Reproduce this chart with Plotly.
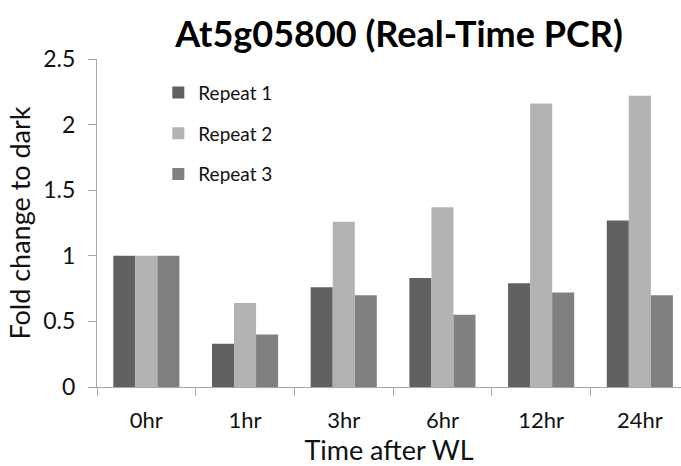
import plotly.graph_objects as go

# Fold change of At5g05800 relative to dark, three biological repeats
time_points = ["0hr", "1hr", "3hr", "6hr", "12hr", "24hr"]
repeat_1 = [1.0, 0.33, 0.76, 0.83, 0.79, 1.27]
repeat_2 = [1.0, 0.64, 1.26, 1.37, 2.16, 2.22]
repeat_3 = [1.0, 0.40, 0.70, 0.55, 0.72, 0.70]

series_names = ["Repeat 1", "Repeat 2", "Repeat 3"]
series_values = [repeat_1, repeat_2, repeat_3]
series_colors = ["#616161", "#b3b3b3", "#808080"]

FONT = "Lato, 'Open Sans', sans-serif"
TEXT = "#111111"
AXIS = "#a8a8a8"

fig = go.Figure()
for name, vals, col in zip(series_names, series_values, series_colors):
    fig.add_trace(go.Bar(
        x=time_points, y=vals, name=name,
        marker=dict(color=col, line=dict(width=0)),
        legendgroup=name,
    ))

fig.update_layout(
    width=681, height=466,
    margin=dict(l=97, r=0, t=59, b=79),
    paper_bgcolor="white", plot_bgcolor="white",
    barmode="group", bargap=0.33, bargroupgap=0,
    font=dict(family=FONT, color=TEXT),
    title=dict(
        text="<b>At5g05800 (Real-Time PCR)</b>",
        font=dict(family=FONT, size=36, color="#000000"),
        x=399 / 681, xanchor="center", xref="container",
        y=1 - 34 / 466, yanchor="middle", yref="container",
    ),
    legend=dict(
        x=0.105, y=0.955, xanchor="left", yanchor="top",
        font=dict(family=FONT, size=19, color=TEXT),
        bgcolor="rgba(0,0,0,0)", tracegroupgap=13,
        traceorder="grouped",
    ),
    showlegend=True,
)

fig.update_xaxes(
    range=[-0.5, 5.417],
    showline=True, linecolor=AXIS, linewidth=1,
    ticks="outside", tickson="boundaries", ticklen=8, tickcolor=AXIS,
    tickfont=dict(family=FONT, size=22, color=TEXT),
    ticklabelstandoff=14,
    showgrid=False, zeroline=False,
    title=dict(text="Time after WL", font=dict(family=FONT, size=27, color=TEXT), standoff=4),
)
fig.update_yaxes(
    range=[0, 2.5], dtick=0.5, tick0=0,
    showline=True, linecolor=AXIS, linewidth=1,
    ticks="outside", ticklen=8, tickcolor=AXIS,
    tickfont=dict(family=FONT, size=23, color=TEXT),
    ticklabelstandoff=8,
    showgrid=False, zeroline=False,
    title=dict(text="Fold change to dark", font=dict(family=FONT, size=27, color=TEXT), standoff=4),
)

fig.write_html("out.html")
